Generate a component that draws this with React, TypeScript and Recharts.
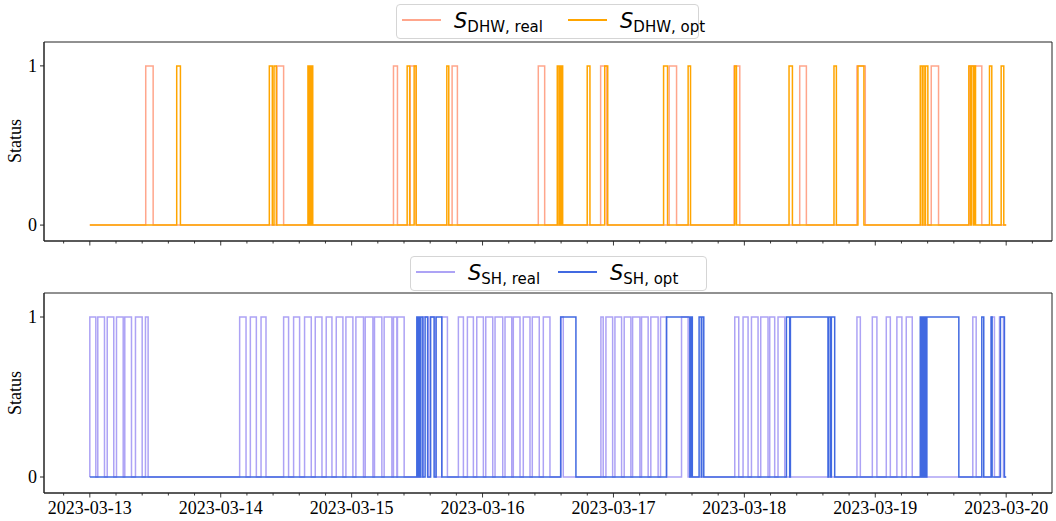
import { LineChart, Line, XAxis, YAxis, ReferenceArea } from 'recharts';

// hours since 2023-03-13 00:00, [on, off] pairs
const dhwReal = [
  [10.25, 11.61], [34.32, 35.53], [55.67, 56.4], [58.73, 59.83], [66.42, 67.39],
  [82.22, 83.39], [93.65, 94.75], [106.21, 107.57], [118.11, 119.16], [130.15, 131.37],
  [140.64, 142.17], [154.26, 155.6], [161.28, 163.53],
];
const dhwOpt = [
  [15.93, 16.61], [32.91, 33.46], [33.77, 34.19], [39.99, 40.18], [40.29, 40.47], [40.6, 40.87],
  [58.18, 58.64], [59.46, 59.83], [65.45, 65.81], [85.7, 86.0], [86.15, 86.4], [86.5, 86.69],
  [91.19, 91.69], [94.4, 94.95], [105.19, 105.92], [109.69, 110.13], [118.24, 118.55],
  [128.19, 128.81], [136.43, 136.87], [140.82, 141.92], [152.25, 152.6], [152.75, 153.1],
  [153.2, 153.64], [161.15, 161.5], [161.65, 162.0], [162.1, 162.38], [164.94, 165.36],
  [167.08, 167.56],
];
const shReal = [
  [0, 1.1], [1.46, 2.69], [3.19, 4.39], [4.89, 6.12], [6.41, 7.64], [8.37, 9.6], [10.2, 10.69],
  [27.47, 28.64], [29.43, 30.53], [31.39, 32.3],
  [35.53, 36.44], [37.36, 38.46], [39.37, 40.6], [41.33, 42.56], [43.34, 44.39], [45.18, 46.4],
  [46.95, 48.23], [48.78, 50.17], [50.49, 51.9], [52.19, 53.54], [53.96, 55.38], [55.67, 56.29],
  [56.4, 57.63], [61.11, 62.02], [62.39, 63.3], [64.53, 65.56],
  [67.57, 68.49], [69.22, 70.32], [70.94, 72.15], [72.59, 73.87], [74.29, 75.7], [76.12, 77.35],
  [77.64, 78.87], [79.47, 80.7], [81.12, 82.4], [83.14, 84.36], [86.38, 86.8],
  [93.7, 94.12], [94.62, 95.85], [96.27, 97.49], [97.97, 99.19], [99.51, 100.85], [101.15, 102.36],
  [102.85, 104.19], [104.63, 105.73], [108.48, 109.69],
  [118.24, 118.97], [119.76, 120.68], [121.3, 122.51], [123.0, 124.34], [124.65, 125.56], [126.17, 127.4],
  [140.64, 141.26], [143.46, 144.3], [146.02, 146.76], [147.96, 148.88], [149.68, 150.78],
  [161.88, 162.5], [165.25, 165.85], [166.77, 167.5],
];
const shOpt = [
  [59.95, 60.19], [60.32, 60.56], [60.69, 61.05], [61.47, 61.93], [62.48, 63.12], [63.49, 64.53],
  [86.32, 89.12], [105.73, 110.0], [110.19, 110.46], [111.7, 112.1], [112.2, 112.56],
  [127.71, 128.31], [128.44, 135.33], [135.4, 135.75], [135.95, 136.56],
  [152.25, 152.5], [152.65, 152.9], [153.05, 153.3], [153.46, 159.32],
  [163.53, 163.89], [165.25, 165.42], [166.95, 167.68],
];

const dayTicks = [0, 24, 48, 72, 96, 120, 144, 168];
const dayLabels = ['2023-03-13', '2023-03-14', '2023-03-15', '2023-03-16', '2023-03-17', '2023-03-18', '2023-03-19', '2023-03-20'];
const allTicks = [
  -4.8, 0, 4.8, 9.6, 14.4, 19.2, 24, 28.8, 33.6, 38.4, 43.2, 48, 52.8, 57.6, 62.4, 67.2, 72,
  76.8, 81.6, 86.4, 91.2, 96, 100.8, 105.6, 110.4, 115.2, 120, 124.8, 129.6, 134.4, 139.2, 144,
  148.8, 153.6, 158.4, 163.2, 168, 172.8,
];

const START = 0;
const END = 168;
const X_DOMAIN = [-8.4, 176.4];
const Y_DOMAIN = [-0.1, 1.15];
const SERIF = '"Liberation Serif", "Times New Roman", serif';
const SANS = '"DejaVu Sans", sans-serif';
const AXIS = '#222';

const toSteps = (pulses: number[][]) => {
  const pts = [{ t: START, v: 0 }];
  pulses.forEach(([on, off]) => {
    pts.push({ t: on, v: 1 });
    pts.push({ t: off, v: 0 });
  });
  pts.push({ t: END, v: 0 });
  return pts;
};

const XTick = (props: any) => {
  const { x, y, payload, showLabel } = props;
  const i = dayTicks.indexOf(payload.value);
  const major = i >= 0;
  return (
    <g>
      <line x1={x} x2={x} y1={y} y2={y + (major ? 4.5 : 2.5)} stroke={AXIS} strokeWidth={0.9} />
      {showLabel && major && (
        <text x={x} y={y + 21} textAnchor="middle" fontFamily={SERIF} fontSize={18} fill="#000">
          {dayLabels[i]}
        </text>
      )}
    </g>
  );
};

function Panel({ real, opt, realColor, optColor, top, height, marginTop, axisHeight, showLabels }: any) {
  return (
    <div style={{ position: 'absolute', left: 0, top }}>
      <LineChart width={1056} height={height} margin={{ top: marginTop, right: 4, bottom: 0, left: 0 }}>
        <XAxis
          type="number"
          dataKey="t"
          domain={X_DOMAIN}
          allowDataOverflow
          ticks={allTicks}
          interval={0}
          height={axisHeight}
          tickSize={0}
          tickMargin={0}
          tickLine={false}
          axisLine={{ stroke: AXIS }}
          tick={<XTick showLabel={showLabels} />}
        />
        <YAxis
          type="number"
          domain={Y_DOMAIN}
          allowDataOverflow
          ticks={[0, 1]}
          width={44}
          tickSize={4}
          tickMargin={3}
          tickLine={{ stroke: AXIS }}
          axisLine={{ stroke: AXIS }}
          tick={{ fontFamily: SERIF, fontSize: 18, fill: '#000' }}
        />
        <ReferenceArea
          x1={X_DOMAIN[0]}
          x2={X_DOMAIN[1]}
          y1={Y_DOMAIN[0]}
          y2={Y_DOMAIN[1]}
          fill="none"
          stroke={AXIS}
          strokeWidth={1}
        />
        <Line
          data={toSteps(real)}
          dataKey="v"
          type="stepAfter"
          stroke={realColor}
          strokeWidth={1.5}
          dot={false}
          isAnimationActive={false}
        />
        <Line
          data={toSteps(opt)}
          dataKey="v"
          type="stepAfter"
          stroke={optColor}
          strokeWidth={1.5}
          dot={false}
          isAnimationActive={false}
        />
      </LineChart>
    </div>
  );
}

function LegendBox({ left, top, width, items }: any) {
  return (
    <div
      style={{
        position: 'absolute',
        left,
        top,
        width,
        height: 35,
        boxSizing: 'border-box',
        border: '1px solid #d5d5d5',
        borderRadius: 4,
        background: '#fff',
        fontFamily: SANS,
        color: '#000',
        whiteSpace: 'nowrap',
      }}
    >
      {items.map((it: any, k: number) => (
        <div key={k} style={{ position: 'absolute', left: it.x, top: 0, height: 33 }}>
          <div
            style={{
              position: 'absolute',
              left: 0,
              top: 14,
              width: 39,
              height: 1.5,
              background: it.color,
            }}
          />
          <div style={{ position: 'absolute', left: 52, top: 3, lineHeight: '26px' }}>
            <span style={{ fontStyle: 'italic', fontSize: 21 }}>S</span>
            <span style={{ fontSize: 15, position: 'relative', top: 4 }}>{it.sub}</span>
          </div>
        </div>
      ))}
    </div>
  );
}

const StatusLabel = ({ top }: any) => (
  <div
    style={{
      position: 'absolute',
      left: 15,
      top,
      transform: 'translate(-50%, -50%) rotate(-90deg)',
      fontFamily: SERIF,
      fontSize: 18,
      whiteSpace: 'nowrap',
    }}
  >
    Status
  </div>
);

export default function App() {
  return (
    <div style={{ position: 'absolute', left: 0, top: 0, width: 1056, height: 521, background: '#fff' }}>
      <Panel
        real={dhwReal}
        opt={dhwOpt}
        realColor="#FFA68C"
        optColor="#FFA500"
        top={0}
        height={250}
        marginTop={42}
        axisHeight={9}
        showLabels={false}
      />
      <Panel
        real={shReal}
        opt={shOpt}
        realColor="#ADA3F5"
        optColor="#4169E1"
        top={250}
        height={271}
        marginTop={43}
        axisHeight={28}
        showLabels
      />
      <StatusLabel top={141} />
      <StatusLabel top={393} />
      <LegendBox
        left={396}
        top={4}
        width={303}
        items={[
          { color: '#FFA68C', sub: 'DHW, real', x: 5 },
          { color: '#FFA500', sub: 'DHW, opt', x: 171 },
        ]}
      />
      <LegendBox
        left={410}
        top={256}
        width={297}
        items={[
          { color: '#ADA3F5', sub: 'SH, real', x: 5 },
          { color: '#4169E1', sub: 'SH, opt', x: 147 },
        ]}
      />
    </div>
  );
}
